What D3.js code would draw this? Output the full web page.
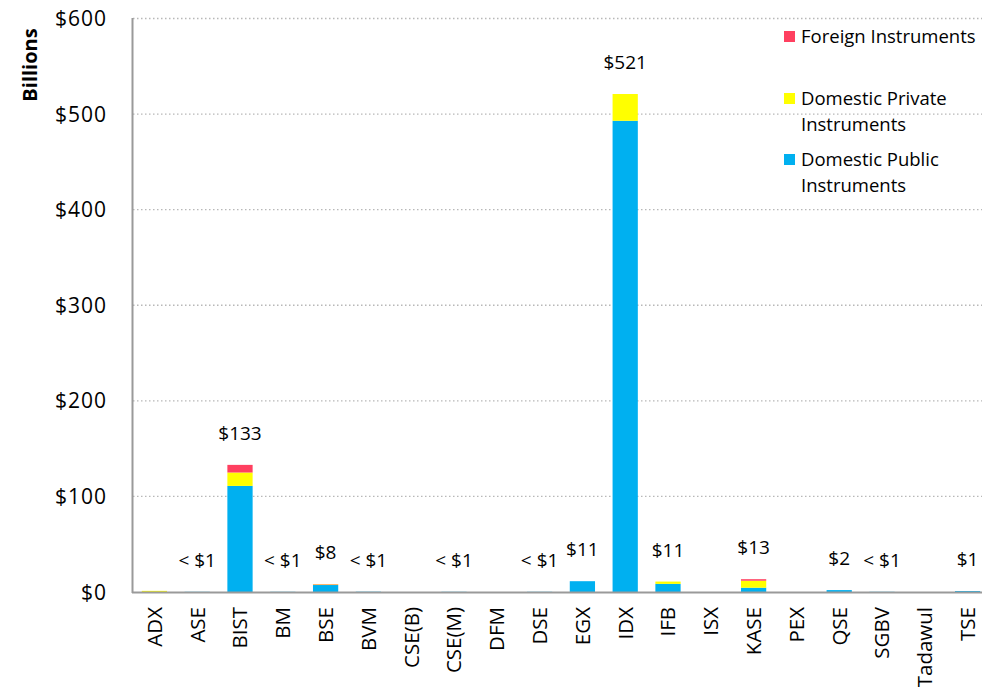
<!DOCTYPE html>
<head>
  <meta charset="utf-8">
  <title>Billions by exchange</title>
  <script src="https://d3js.org/d3.v7.min.js"></script>
  <style>
    body { margin: 0; background: #fff; }
    svg { font-family: "Open Sans", sans-serif; }
    text { fill: #000; }
    .grid-line { stroke: #b8b8b8; stroke-width: 1.3px; stroke-dasharray: 1.5,2.5; }
    .axis-line { stroke: #9a9a9a; stroke-width: 2px; }
    .y-tick { font-size: 21px; letter-spacing: 1px; }
    .x-tick { font-size: 20.5px; }
    .value-label { font-size: 19px; }
    .legend text { font-size: 18.5px; }
    .y-title { font-size: 20px; font-weight: bold; }
  </style>
</head>
<body>
  <script>
    var width = 982, height = 691;

    var exchanges = ["ADX","ASE","BIST","BM","BSE","BVM","CSE(B)","CSE(M)","DFM","DSE","EGX","IDX","IFB","ISX","KASE","PEX","QSE","SGBV","Tadawul","TSE"];
    var domesticPublic  = [0, 0.2, 111, 0.2, 7.3, 0.3, 0, 0.2, 0, 0.2, 11.3, 493, 8.5, 0, 4.5, 0, 2, 0.2, 0, 1];
    var domesticPrivate = [1.2, 0, 14, 0, 0.6, 0, 0, 0, 0, 0, 0, 28, 2.4, 0, 7.3, 0, 0, 0, 0, 0];
    var foreign         = [0, 0, 8, 0, 0.4, 0, 0, 0, 0, 0, 0, 0, 0, 0, 1.6, 0, 0, 0, 0, 0];
    var totalLabels = ["", "< $1", "$133", "< $1", "$8", "< $1", "", "< $1", "", "< $1", "$11", "$521", "$11", "", "$13", "", "$2", "< $1", "", "$1"];
    var yTicks = [0, 100, 200, 300, 400, 500, 600];

    var seriesKeys = ["public", "private", "foreign"];
    var seriesColors = {"public": "#00b0f0", "private": "#ffff00", "foreign": "#ff4060"};

    var legendLabels = [
      {key: "foreign", lines: ["Foreign Instruments"]},
      {key: "private", lines: ["Domestic Private", "Instruments"]},
      {key: "public", lines: ["Domestic Public", "Instruments"]}
    ];

    var table = exchanges.map(function(d, i) {
      return {name: d, "public": domesticPublic[i], "private": domesticPrivate[i], "foreign": foreign[i], label: totalLabels[i]};
    });

    var svg = d3.select("body").append("svg")
      .attr("width", width)
      .attr("height", height);

    var x = d3.scaleBand()
      .domain(exchanges)
      .range([133, 133 + 20 * 42.8])
      .paddingInner(0.41)
      .paddingOuter(0.205);

    var y = d3.scaleLinear()
      .domain([0, 600])
      .range([592, 18.5]);

    // dotted grid
    svg.append("g").selectAll("line")
      .data(yTicks.filter(function(d) { return d > 0; }))
      .enter().append("line")
      .attr("class", "grid-line")
      .attr("x1", 133).attr("x2", 982)
      .attr("y1", function(d) { return y(d); })
      .attr("y2", function(d) { return y(d); });

    // y tick labels
    svg.append("g").selectAll("text")
      .data(yTicks)
      .enter().append("text")
      .attr("class", "y-tick")
      .attr("x", 107)
      .attr("y", function(d) { return y(d) + 7.5; })
      .attr("text-anchor", "end")
      .text(function(d) { return "$" + d; });

    svg.append("text")
      .attr("class", "y-title")
      .attr("transform", "translate(37,65) rotate(-90)")
      .attr("text-anchor", "middle")
      .text("Billions");

    // stacked bars
    var stack = d3.stack().keys(seriesKeys);
    var layers = stack(table);

    svg.append("g").selectAll("g")
      .data(layers)
      .enter().append("g")
      .attr("fill", function(d) { return seriesColors[d.key]; })
      .selectAll("rect")
      .data(function(d) { return d; })
      .enter().append("rect")
      .attr("x", function(d) { return x(d.data.name); })
      .attr("width", x.bandwidth())
      .attr("y", function(d) { return y(d[1]); })
      .attr("height", function(d) { return y(d[0]) - y(d[1]); });

    // axis lines
    svg.append("line").attr("class", "axis-line")
      .attr("x1", 132.5).attr("x2", 132.5).attr("y1", 18).attr("y2", 593);
    svg.append("line").attr("class", "axis-line")
      .attr("x1", 132).attr("x2", 982).attr("y1", 592.5).attr("y2", 592.5);

    // value labels
    svg.append("g").selectAll("text")
      .data(table.filter(function(d) { return d.label !== ""; }))
      .enter().append("text")
      .attr("class", "value-label")
      .attr("x", function(d) { return x(d.name) + x.bandwidth() / 2; })
      .attr("y", function(d) { return y(d["public"] + d["private"] + d["foreign"]) - 25; })
      .attr("text-anchor", "middle")
      .text(function(d) { return d.label; });

    // category labels
    svg.append("g").selectAll("text")
      .data(exchanges)
      .enter().append("text")
      .attr("class", "x-tick")
      .attr("transform", function(d) {
        return "translate(" + (x(d) + x.bandwidth() / 2) + ",607) rotate(-90)";
      })
      .attr("dy", "0.36em")
      .attr("text-anchor", "end")
      .text(function(d) { return d; });

    // legend
    var legendY = [37, 99, 160];
    var legend = svg.append("g").attr("class", "legend");
    var items = legend.selectAll("g")
      .data(legendLabels)
      .enter().append("g")
      .attr("transform", function(d, i) { return "translate(784," + legendY[i] + ")"; });

    items.append("rect")
      .attr("x", 0).attr("y", -6)
      .attr("width", 11).attr("height", 11)
      .attr("fill", function(d) { return seriesColors[d.key]; });

    items.selectAll("text")
      .data(function(d) { return d.lines; })
      .enter().append("text")
      .attr("x", 17)
      .attr("y", function(d, i) { return 6 + i * 26; })
      .text(function(d) { return d; });
  </script>
</body>
